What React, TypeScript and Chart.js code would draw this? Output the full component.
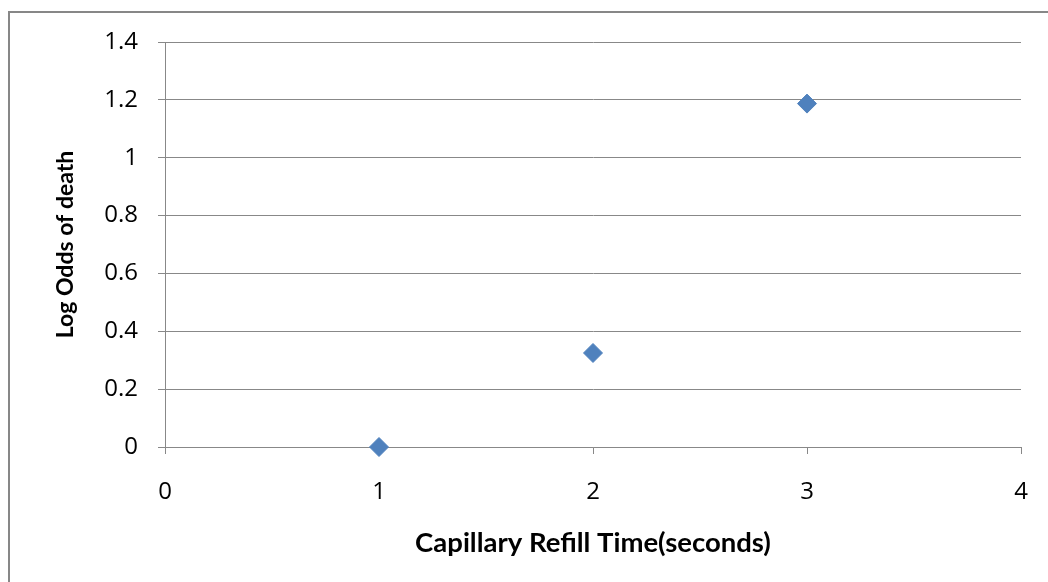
import React, { useEffect, useRef } from "react";
import { Chart, registerables } from "chart.js";

Chart.register(...registerables);

const refillTimes = [1, 2, 3];
const logOdds = [0, 0.325, 1.187];
const xTickValues = [0, 1, 2, 3, 4];
const yTickValues = [0, 0.2, 0.4, 0.6, 0.8, 1, 1.2, 1.4];
const xTitle = "Capillary Refill Time(seconds)";
const yTitle = "Log Odds of death";

const GRID = "#888888";
const FONT = "'Open Sans', sans-serif";

export default function App() {
  const canvasRef = useRef<HTMLCanvasElement | null>(null);

  useEffect(() => {
    const canvas = canvasRef.current;
    if (!canvas) return;
    const chart = new Chart(canvas, {
      type: "scatter",
      data: {
        datasets: [
          {
            label: "Log Odds",
            data: refillTimes.map((x, i) => ({ x, y: logOdds[i] })),
            pointStyle: "rectRot",
            pointRadius: 9.5,
            pointBackgroundColor: "#4F81BD",
            pointBorderColor: "#4F81BD",
            pointBorderWidth: 1,
            showLine: false,
            clip: false,
          },
        ],
      },
      options: {
        responsive: false,
        animation: false,
        devicePixelRatio: 1,
        layout: { padding: { top: 42, right: 27, bottom: 0, left: 0 } },
        plugins: {
          legend: { display: false },
          tooltip: { enabled: false },
        },
        scales: {
          x: {
            type: "linear",
            min: 0,
            max: 4,
            afterBuildTicks: (scale: any) => {
              scale.ticks = xTickValues.map((v) => ({ value: v }));
            },
            afterFit: (scale: any) => {
              scale.height = 582 - 447;
              scale.paddingLeft = 0;
              scale.paddingRight = 0;
            },
            ticks: {
              color: "#000",
              font: { family: FONT, size: 24 },
              padding: 24,
              maxRotation: 0,
              callback: (v: any) => String(v),
            },
            grid: {
              drawOnChartArea: false,
              drawTicks: true,
              tickLength: 7,
              color: GRID,
              lineWidth: 1,
            },
            border: { display: true, color: GRID, width: 1 },
            title: {
              display: true,
              text: xTitle,
              color: "#000",
              font: { family: "Lato, sans-serif", size: 27.5, weight: "bold" },
              padding: { top: 0, bottom: 22 },
            },
          },
          y: {
            type: "linear",
            min: 0,
            max: 1.4,
            afterBuildTicks: (scale: any) => {
              scale.ticks = yTickValues.map((v) => ({ value: v }));
            },
            afterFit: (scale: any) => {
              scale.width = 165;
              scale.paddingTop = 0;
              scale.paddingBottom = 0;
            },
            ticks: {
              color: "#000",
              font: { family: FONT, size: 24 },
              padding: 20,
              callback: (v: any) => String(Math.round(Number(v) * 10) / 10),
            },
            grid: {
              drawOnChartArea: true,
              drawTicks: true,
              tickLength: 7,
              color: GRID,
              lineWidth: 1,
            },
            border: { display: true, color: GRID, width: 1 },
            title: {
              display: true,
              text: yTitle,
              color: "#000",
              font: { family: "Lato, sans-serif", size: 23, weight: "bold" },
              padding: { top: 52, bottom: 0 },
            },
          },
        },
      },
    } as any);
    return () => chart.destroy();
  }, []);

  return (
    <div
      style={{
        position: "fixed",
        left: 0,
        top: 0,
        width: 1048,
        height: 582,
        background: "#fff",
        overflow: "hidden",
      }}
    >
      <div
        style={{
          position: "absolute",
          left: 8,
          top: 11,
          width: 1100,
          height: 700,
          borderLeft: "2px solid #878787",
          borderTop: "2px solid #878787",
        }}
      />
      <canvas
        ref={canvasRef}
        width={1048}
        height={582}
        style={{ position: "absolute", left: 0, top: 0, width: 1048, height: 582 }}
      />
    </div>
  );
}
